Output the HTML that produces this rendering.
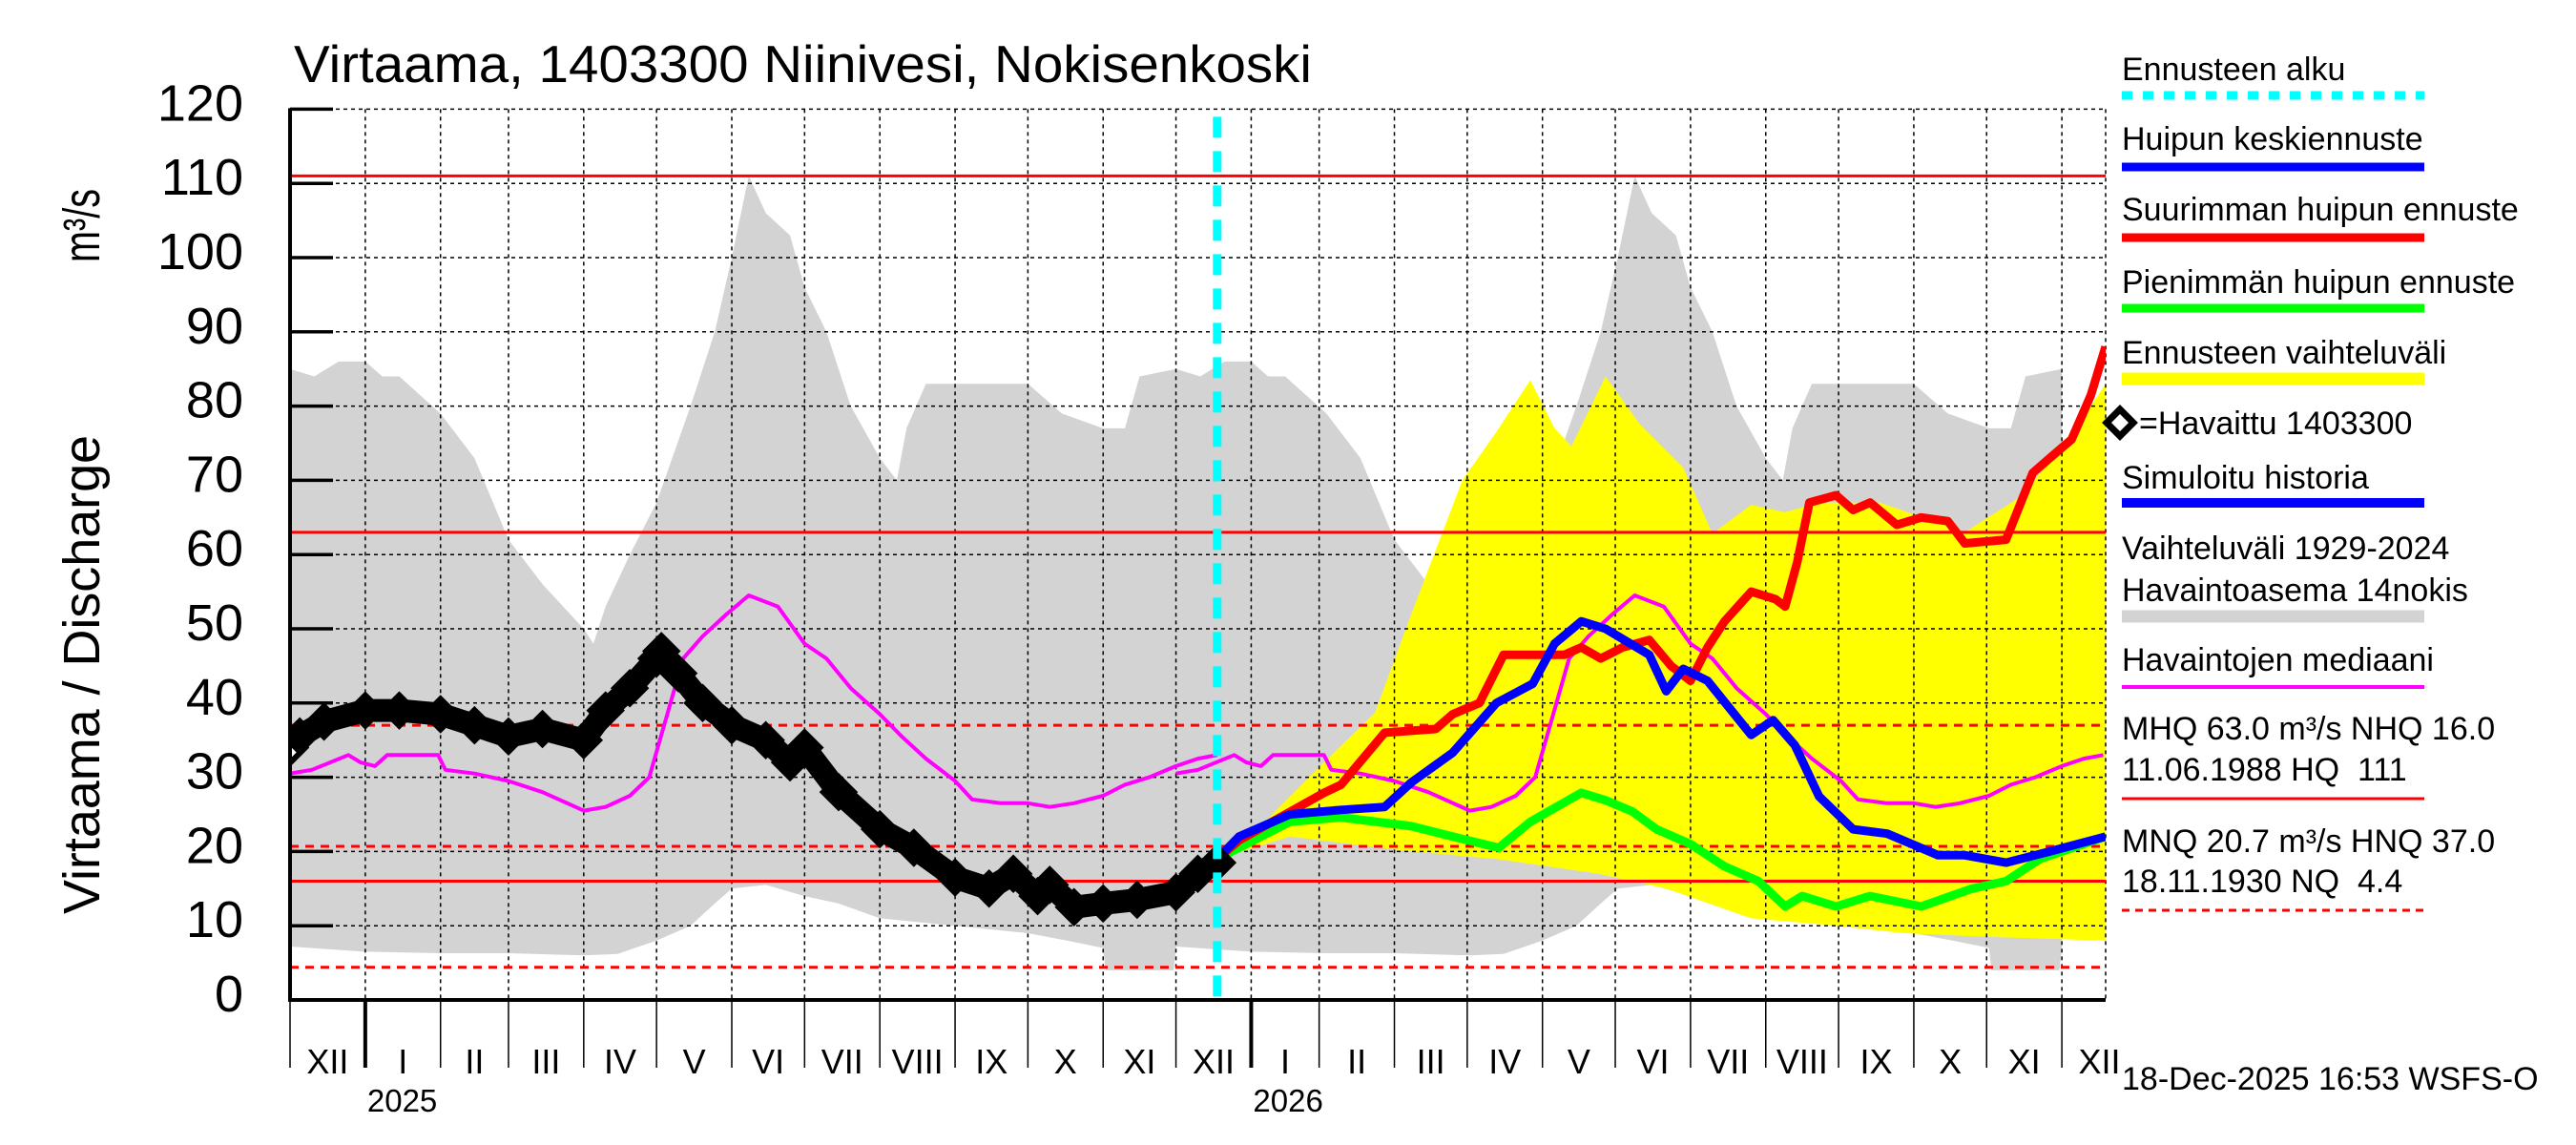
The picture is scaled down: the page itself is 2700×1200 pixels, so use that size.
<!DOCTYPE html>
<html><head><meta charset="utf-8"><title>Virtaama Niinivesi</title>
<style>
html,body{margin:0;padding:0;background:#fff;}
svg{display:block;font-family:"Liberation Sans",sans-serif;}
</style></head>
<body>
<svg id="chart" xmlns="http://www.w3.org/2000/svg" width="2700" height="1200" viewBox="0 0 2700 1200">
<rect x="0" y="0" width="2700" height="1200" fill="#fff"/>
<defs><clipPath id="plotclip"><rect x="304" y="115" width="1903" height="933"/></clipPath></defs>
<g id="bands" clip-path="url(#plotclip)"></g>
<g id="grid"></g>
<g id="reflines"></g>
<g id="series" clip-path="url(#plotclip)"></g>
<g id="axes"></g>
<text x="308" y="86" font-size="55" textLength="1067" lengthAdjust="spacingAndGlyphs">Virtaama, 1403300 Niinivesi, Nokisenkoski</text>
<text transform="translate(104,958) rotate(-90)" font-size="54" textLength="502" lengthAdjust="spacingAndGlyphs">Virtaama / Discharge</text>
<text transform="translate(104,275) rotate(-90)" font-size="54" textLength="77" lengthAdjust="spacingAndGlyphs">m³/s</text>
<g id="legend" font-size="34">
<text x="2224" y="84">Ennusteen alku</text>
<line x1="2224" y1="100" x2="2541" y2="100" stroke="#00ffff" stroke-width="9" stroke-dasharray="11,11"/>
<text x="2224" y="157">Huipun keskiennuste</text>
<line x1="2224" y1="175" x2="2541" y2="175" stroke="#0000ff" stroke-width="9"/>
<text x="2224" y="231">Suurimman huipun ennuste</text>
<line x1="2224" y1="249" x2="2541" y2="249" stroke="#ff0000" stroke-width="9"/>
<text x="2224" y="307">Pienimmän huipun ennuste</text>
<line x1="2224" y1="323" x2="2541" y2="323" stroke="#00ff00" stroke-width="9"/>
<text x="2224" y="381">Ennusteen vaihteluväli</text>
<line x1="2224" y1="397" x2="2541" y2="397" stroke="#ffff00" stroke-width="13"/>
<path d="M2222,429 L2236,443 L2222,457 L2208,443 Z" fill="#fff" stroke="#000" stroke-width="7"/>
<text x="2242" y="455">=Havaittu 1403300</text>
<text x="2224" y="512">Simuloitu historia</text>
<line x1="2224" y1="527" x2="2541" y2="527" stroke="#0000ff" stroke-width="10"/>
<text x="2224" y="586">Vaihteluväli 1929-2024</text>
<text x="2224" y="630">Havaintoasema 14nokis</text>
<line x1="2224" y1="646" x2="2541" y2="646" stroke="#d3d3d3" stroke-width="13"/>
<text x="2224" y="703">Havaintojen mediaani</text>
<line x1="2224" y1="720" x2="2541" y2="720" stroke="#ff00ff" stroke-width="4"/>
<text x="2224" y="775">MHQ 63.0 m³/s NHQ 16.0</text>
<text x="2224" y="818" xml:space="preserve">11.06.1988 HQ  111</text>
<line x1="2224" y1="837" x2="2541" y2="837" stroke="#ff0000" stroke-width="3"/>
<text x="2224" y="893">MNQ 20.7 m³/s HNQ 37.0</text>
<text x="2224" y="935" xml:space="preserve">18.11.1930 NQ  4.4</text>
<line x1="2224" y1="954" x2="2541" y2="954" stroke="#ff0000" stroke-width="3" stroke-dasharray="8,6"/>
<text x="2224" y="1142">18-Dec-2025 16:53 WSFS-O</text>
</g>
</svg>
<script>
// climatology (days from 1 Dec), repeated every year
const climMaxDays = [0,10,20,31,38,45,62,76,90,104,121,125,130,140,151,165,175,182,189,196,206,212,221,231,243,250,254,262,274,289,304,318,335,336,344,350,365];
const climMax = [85,84,86,86,84,84,79,73,62,56,50,48,53,60,67,80,90,100,111,106,103,96,90,80,73,70,77,83,83,83,83,79,77,77,77,84,85];
const climMinDays = [0,31,62,90,121,135,151,165,175,182,196,212,226,243,274,289,304,320,335,336,364,365];
const climMin = [7.2,6.5,6.3,6.3,6,6.2,8,10,13,15,15.5,14,13,11,10,9.5,9,8,7,4,4,7];
const medianDays = [0,9,24,29,35,40,61,64,76,90,104,121,130,140,148,155,162,170,180,189,201,212,221,231,243,252,262,274,281,293,304,313,323,335,344,354,365,374,382];
const medianVals = [30.5,31,33,32,31.5,33,33,31,30.5,29.5,28,25.5,26,27.5,30,38,46,49,52,54.5,53,48,46,42,38.5,35.5,32.5,29.5,27,26.5,26.5,26,26.5,27.5,29,30,31.5,32.5,33];
// observed (days from 1 Dec 2024)
const obsDays = [0,4,14,31,45,62,76,90,104,121,130,140,151,153,160,170,182,196,206,212,226,243,257,274,288,298,308,313,323,335,349,365,374,382];
const obsVals = [34,35.5,37.5,39,39,38.5,37,35.5,36.5,35,39,42,46,47,44,40,37,35,32,34,28,23,20.5,16.5,15,17,14,15.5,12.5,13,13.5,14.5,17,18.5];
// forecasts
const maxDays = [382,391,426,433,451,472,479,490,500,525,532,540,549,560,569,577,584,591,602,612,616,621,626,637,644,651,662,672,683,690,707,718,725,734,742,748];
const maxVals = [19,21.5,27.9,29,36,36.5,38.5,40,46.5,46.5,47.5,46,47.5,48.5,45,43,47.5,51,55,54,53,59,67,68,66,67,64,65,64.5,61.5,62,71,73,75.5,81.5,88];
const meanDays = [382,391,412,433,451,462,479,497,512,521,532,542,560,567,574,584,602,611,620,630,644,658,679,690,707,725,748];
const meanVals = [19,22,25,25.6,26,29.3,33.3,40,42.6,48,51,50,46.5,41.6,44.6,43,35.7,37.7,34.3,27.4,23,22.4,19.5,19.5,18.5,20,22];
const minDays = [382,412,433,462,479,498,511,532,542,553,563,577,591,605,616,623,637,651,672,693,707,721,748];
const minVals = [19,24,24.6,23.4,22,20.5,24,27.9,26.9,25.4,23,21,18,16,12.6,14,12.6,14,12.6,15,16,19,22];
const rangeUpDays = [382,391,426,447,462,483,497,511,521,528,542,556,574,586,602,616,630,655,690,714,742,748];
const rangeUpVals = [19,20.5,32,38.7,52,70,76.5,83.5,77,74.6,84,77.6,71.7,62.8,66.7,65.7,67,67,63,68,80,83];
const rangeLoDays = [382,412,462,497,539,567,602,637,665,700,748];
const rangeLoVals = [19,22,20,19,17,15,11,10,9,8.5,8];
const refSolid = [111,63,16];
const refDashed = [37,20.7,4.4];
const yTicks = [0,10,20,30,40,50,60,70,80,90,100,110,120];
const monthStarts = [0,31,62,90,121,151,182,212,243,274,304,335,365,396,424,455,485,516,546,577,608,638,669,699,730,761];
const monthLabels = ["XII","I","II","III","IV","V","VI","VII","VIII","IX","X","XI","XII","I","II","III","IV","V","VI","VII","VIII","IX","X","XI","XII"];
const yearLabels = ["2025","2026"];
const yearStartIdx = [1,13];
const forecastStart = 382;

const NS = "http://www.w3.org/2000/svg";
const X0 = 304, X1 = 2207, DPX = 2.544;
const Y0 = 1048, YPX = 7.78;
function X(d){ return X0 + d*DPX; }
function Y(v){ return Y0 - v*YPX; }
function mk(tag, attrs, parent){
  const e = document.createElementNS(NS, tag);
  for (const k in attrs) e.setAttribute(k, attrs[k]);
  parent.appendChild(e); return e;
}
function pts(days, vals, off){ return days.map((d,i)=>X(d+(off||0)).toFixed(1)+","+Y(vals[i]).toFixed(1)); }

const bands = document.getElementById('bands');
[0,365].forEach(off=>{
  const up = pts(climMaxDays, climMax, off);
  const lo = pts(climMinDays, climMin, off).reverse();
  const p = mk('polygon', {points: up.concat(lo).join(' '), fill:'#d3d3d3'}, bands);
  
  
});
{
  const up = pts(rangeUpDays, rangeUpVals);
  const lo = pts(rangeLoDays, rangeLoVals).reverse();
  const p = mk('polygon', {points: up.concat(lo).join(' '), fill:'#ffff00'}, bands);
  
  
}

const grid = document.getElementById('grid');
yTicks.forEach(v=>{
  if (v===0) return;
  const l = mk('line', {x1:X0, x2:X1, y1:Y(v), y2:Y(v), stroke:'#000', 'stroke-width':1.5, 'stroke-dasharray':'4,4'}, grid);
  
  
});
monthStarts.forEach(d=>{
  if (d<=0 || X(d)>X1+1) return;
  const l = mk('line', {x1:X(d), x2:X(d), y1:Y(120), y2:Y0, stroke:'#000', 'stroke-width':1.5, 'stroke-dasharray':'4,4'}, grid);
  
  
});
{
  const l = mk('line', {x1:X1, x2:X1, y1:Y(120), y2:Y0, stroke:'#000', 'stroke-width':1.5, 'stroke-dasharray':'4,4'}, grid);
  
  
}

const refs = document.getElementById('reflines');
refSolid.forEach(v=>{
  const l = mk('line', {x1:X0, x2:X1, y1:Y(v), y2:Y(v), stroke:'#ff0000', 'stroke-width':3}, refs);
  
  
});
refDashed.forEach(v=>{
  const l = mk('line', {x1:X0, x2:X1, y1:Y(v), y2:Y(v), stroke:'#ff0000', 'stroke-width':3, 'stroke-dasharray':'9,7'}, refs);
  
  
});

const ser = document.getElementById('series');
[0,365].forEach(off=>{
  const l = mk('polyline', {points: pts(medianDays, medianVals, off).join(' '), fill:'none', stroke:'#ff00ff', 'stroke-width':4, 'stroke-linejoin':'round'}, ser);
  
  
});
{
  const l = mk('polyline', {points: pts(minDays, minVals).join(' '), fill:'none', stroke:'#00ff00', 'stroke-width':9, 'stroke-linejoin':'round'}, ser);
  
  
  const r = mk('polyline', {points: pts(maxDays, maxVals).join(' '), fill:'none', stroke:'#ff0000', 'stroke-width':9, 'stroke-linejoin':'round'}, ser);
  
  
  const b = mk('polyline', {points: pts(meanDays, meanVals).join(' '), fill:'none', stroke:'#0000ff', 'stroke-width':9, 'stroke-linejoin':'round'}, ser);
  
  
  const o = mk('polyline', {points: pts(obsDays, obsVals).join(' '), fill:'none', stroke:'#000', 'stroke-width':24, 'stroke-linejoin':'round'}, ser);
  
  
  obsDays.forEach((d,i)=>{
    const cx = X(d), cy = Y(obsVals[i]);
    const m = mk('path', {d:`M${cx},${cy-16} L${cx+16},${cy} L${cx},${cy+16} L${cx-16},${cy} Z`, fill: i===0?'#fff':'#000', stroke:'#000', 'stroke-width':6}, ser);
    
    
  });
}

const axes = document.getElementById('axes');
{
  const c = mk('line', {x1:X(forecastStart), x2:X(forecastStart), y1:Y(120)+8, y2:Y0, stroke:'#00ffff', 'stroke-width':9, 'stroke-dasharray':'22,14'}, axes);
  
  
  const la = mk('line', {x1:X0, x2:X0, y1:Y(120)-1, y2:Y0+2, stroke:'#000', 'stroke-width':4}, axes);
  
  
  const ba = mk('line', {x1:X0-2, x2:X1, y1:Y0, y2:Y0, stroke:'#000', 'stroke-width':4}, axes);
  
  
}
yTicks.forEach(v=>{
  const t = mk('line', {x1:X0, x2:X0+45, y1:Y(v), y2:Y(v), stroke:'#000', 'stroke-width':3.5}, axes);
  
  
  const tx = mk('text', {x:255, y:Y(v)+12, 'text-anchor':'end', 'font-size':54}, axes);
  tx.textContent = String(v);
  
  
});
monthStarts.forEach((d,i)=>{
  if (X(d)<=X1+1) {
    const yr = yearStartIdx.includes(i);
    const t = mk('line', {x1:X(d), x2:X(d), y1:Y0, y2:1119, stroke:'#000', 'stroke-width': yr?4:1.5}, axes);
    
    
  }
  if (i < monthLabels.length) {
    const mid = (d + monthStarts[i+1]) / 2;
    const tx = mk('text', {x:X(mid), y:1125, 'text-anchor':'middle', 'font-size':36}, axes);
    tx.textContent = monthLabels[i];
    
    
  }
});
yearLabels.forEach((lab,i)=>{
  const tx = mk('text', {x:X(monthStarts[yearStartIdx[i]])+2, y:1165, 'font-size':33}, axes);
  tx.textContent = lab;
  
  
});
</script>
</body></html>
